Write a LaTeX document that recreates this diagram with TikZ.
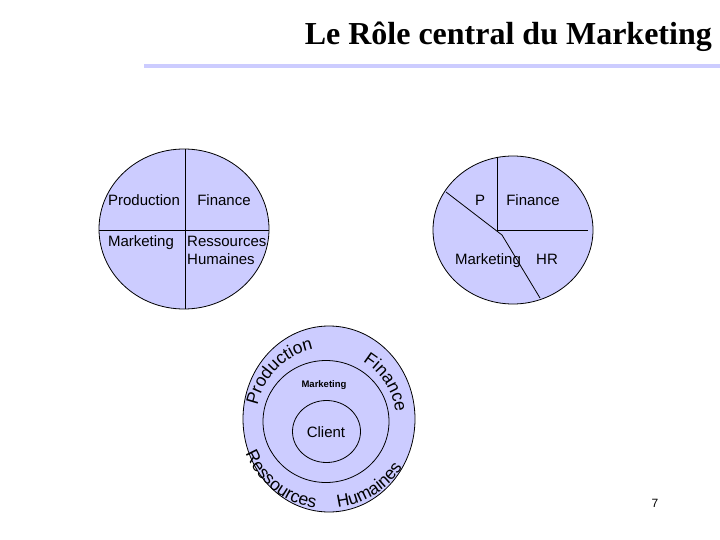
\documentclass[tikz,border=0pt]{standalone}
\usepackage{fontspec}
\setmainfont{Liberation Sans}
\newfontfamily\titlefont{Liberation Serif}
\usetikzlibrary{decorations.text}
\definecolor{lav}{RGB}{204,204,255}
\newcommand\fs{\fontsize{15}{18}\selectfont}
\newcommand\fsr{\fontsize{17.5}{20}\selectfont}

\begin{document}
\begin{tikzpicture}[x=1pt, y=1pt, font=\fs,
      disc/.style={draw, fill=lav, line width=0.8pt},
      t/.style={inner sep=0pt, anchor=base},
      curv/.style={decorate, decoration={text along path, text align=center, text={|\fsr|#1}}}]
      \useasboundingbox[fill=white] (0,0) rectangle (720,-540);
      % title
      \node[t, anchor=base east, font=\titlefont\bfseries\fontsize{32}{36}\selectfont] (title) at (712,-45) {Le Rôle central du Marketing};
      \fill[lav] (144,-64) rectangle (720,-68);
      % left pie
      \draw[disc] (184,-229) ellipse[x radius=85, y radius=80];
      \draw[line width=0.8pt] (185,-149) -- (185,-309) (99,-230) -- (269,-230);
      \node[t] (lp) at (144,-206) {Production};
      \node[t] (lf) at (224,-206) {Finance};
      \node[t] (lm) at (141,-246) {Marketing};
      \node[t, anchor=base west] (lr) at (187,-246) {Ressources};
      \node[t, anchor=base west] (lh) at (187,-264) {Humaines};
      % right pie
      \draw[disc] (513,-230) ellipse[x radius=80, y radius=74];
      \draw[line width=0.8pt] (497,-157) -- (497,-230) -- (588,-230);
      \draw[line width=0.8pt] (446,-192) -- (502,-235) -- (540,-298);
      \node[t] (rp) at (480,-206) {P};
      \node[t] (rf) at (533,-206) {Finance};
      \node[t] (rm) at (488,-264) {Marketing};
      \node[t] (rh) at (547,-264) {HR};
      % rings
      \coordinate (c) at (328,-420);
      \draw[disc] (329,-419) ellipse[x radius=86, y radius=93];
      \draw[line width=0.8pt] (326,-421.5) ellipse[x radius=63, y radius=61];
      \draw[line width=0.8pt] (326.5,-431.5) ellipse[x radius=34, y radius=31];
      \node (cl) at (326,-432) {Client};
      \node[font=\bfseries\fontsize{9.5}{10}\selectfont] (mk) at (324,-385) {Marketing};
      \path[curv=Production] (c) ++(172:72) arc[start angle=172, end angle=98, radius=72];
      \path[curv=Finance] (c) ++(62:68) arc[start angle=62, end angle=4, radius=68];
      \path[curv=Ressources] (c) ++(198:89) arc[start angle=198, end angle=266, radius=89];
      \path[curv=Humaines] (c) ++(272:88) arc[start angle=272, end angle=332, radius=88];
      \node[font=\fontsize{12}{14}\selectfont] (pg) at (655,-503) {7};
\end{tikzpicture}
\end{document}
